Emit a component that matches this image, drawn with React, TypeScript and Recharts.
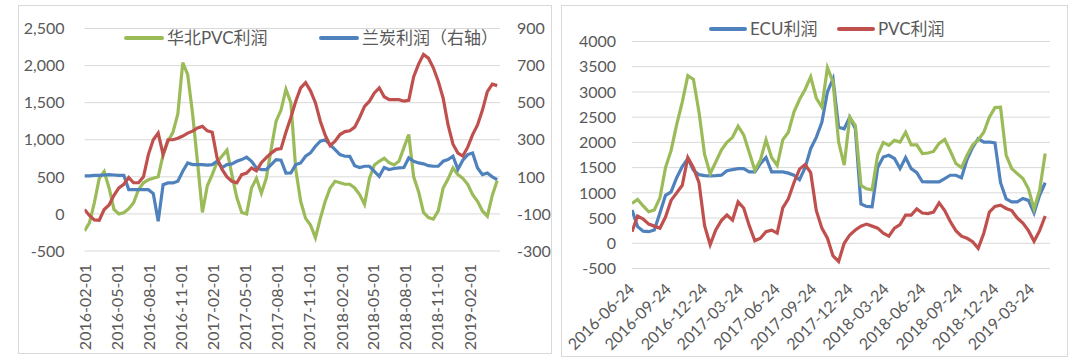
import React from "react";
import { LineChart, Line, XAxis, YAxis, CartesianGrid, Legend } from "recharts";

const FONT = 'Lato, "Noto Sans CJK SC", sans-serif';
const GREY = "#595959";
const GRID = "#d9d9d9";
const GREEN = "#9BBB59";
const BLUE = "#4F81BD";
const RED = "#C0504D";
const DAY = 86400000;
const STEP_DAYS = 14;

// ---- left chart (samples every two weeks from leftStart)
const leftStart = "2016-02-01";
const leftEnd = "2019-04-30";
const leftTicks = [
  "2016-02-01", "2016-05-01", "2016-08-01", "2016-11-01", "2017-02-01", "2017-05-01", "2017-08-01",
  "2017-11-01", "2018-02-01", "2018-05-01", "2018-08-01", "2018-11-01", "2019-02-01",
];
const leftAxisTicks = [-500, 0, 500, 1000, 1500, 2000, 2500];
const leftRightAxisTicks = [-300, -100, 100, 300, 500, 700, 900];

const northPvc = [
  -230, -120, 150, 480, 570, 350, 60, 0, 15, 70,
  150, 330, 420, 460, 480, 500, 800, 980, 1100, 1350,
  2040, 1880, 1350, 700, 20, 380, 530, 700, 780, 860,
  530, 220, 20, 0, 350, 480, 280, 480, 880, 1250,
  1400, 1680, 1500, 600, 170, -60, -150, -320, -60, 170,
  350, 440, 420, 400, 400, 350, 260, 130, 480, 660,
  710, 750, 690, 660, 710, 890, 1070, 500, 300, 20,
  -50, -70, 40, 350, 470, 620, 530, 480, 400, 260,
  170, 40, -30, 250, 450,
];
const lanTan = [
  105, 105, 108, 108, 110, 112, 110, 108, 108, 31,
  31, 31, 31, 31, 10, -140, 58, 67, 67, 76,
  130, 175, 166, 166, 166, 163, 166, 184, 150, 166,
  170, 184, 193, 206, 184, 148, 139, 139, 166, 193,
  190, 120, 121, 166, 175, 211, 229, 265, 292, 300,
  274, 247, 220, 211, 210, 160, 150, 157, 157, 130,
  103, 150, 139, 145, 148, 150, 202, 184, 175, 170,
  160, 157, 157, 184, 193, 211, 140, 190, 220, 229,
  148, 112, 121, 100, 85,
];
const leftRed = [
  60, -20, -80, -85, 60, 120, 250, 350, 400, 490,
  420, 420, 500, 800, 1000, 1090, 800, 1000, 1000, 1020,
  1050, 1090, 1116, 1160, 1180, 1120, 1100, 750, 600, 500,
  440, 420, 530, 550, 620, 580, 690, 760, 820, 870,
  880, 1100, 1300, 1520, 1700, 1770, 1660, 1500, 1250, 1060,
  920, 980, 1070, 1110, 1120, 1170, 1300, 1450, 1520, 1630,
  1700, 1580, 1540, 1540, 1540, 1520, 1530, 1850, 2020, 2150,
  2100, 1970, 1790, 1560, 1200, 940, 820, 780, 900, 1070,
  1200, 1400, 1650, 1750, 1730,
];

// ---- right chart
const rightStart = "2016-06-24";
const rightEnd = "2019-05-08";
const rightTicks = [
  "2016-06-24", "2016-09-24", "2016-12-24", "2017-03-24", "2017-06-24", "2017-09-24",
  "2017-12-24", "2018-03-24", "2018-06-24", "2018-09-24", "2018-12-24", "2019-03-24",
];
const rightAxisTicks = [-500, 0, 500, 1000, 1500, 2000, 2500, 3000, 3500, 4000];

const ecu = [
  658, 330, 240, 230, 263, 600, 950, 1020, 1300, 1520,
  1678, 1450, 1360, 1340, 1336, 1340, 1350, 1440, 1460, 1480,
  1480, 1415, 1415, 1580, 1700, 1415, 1415, 1415, 1390, 1350,
  1260, 1500, 1875, 2100, 2400, 3000, 3257, 2300, 2270, 2500,
  2270, 780, 730, 724, 1500, 1711, 1744, 1680, 1480, 1700,
  1480, 1400, 1220, 1217, 1217, 1217, 1283, 1349, 1349, 1300,
  1660, 1900, 2073, 2007, 2007, 1990, 1200, 880, 822, 822,
  888, 850, 600, 950, 1200,
];
const pvc = [
  230, 540, 480, 380, 340, 300, 520, 850, 1000, 1150,
  1700, 1500, 1200, 350, -30, 263, 450, 560, 460, 820,
  700, 350, 50, 100, 230, 260, 200, 700, 880, 1200,
  1470, 1560, 1400, 650, 300, 100, -250, -360, 0, 165,
  263, 340, 380, 340, 300, 200, 140, 300, 370, 560,
  560, 680, 600, 590, 620, 800, 650, 430, 250, 140,
  99, 30, -100, 200, 620, 730, 757, 690, 650, 500,
  400, 250, 40, 250, 540,
];
const rightGreen = [
  790, 870, 740, 625, 660, 900, 1500, 1840, 2350, 2800,
  3323, 3250, 2600, 1760, 1380, 1612, 1850, 2000, 2100, 2320,
  2150, 1800, 1450, 1650, 2050, 1700, 1546, 2050, 2200, 2600,
  2850, 3050, 3300, 2880, 2700, 3480, 3200, 2007, 1550, 2500,
  2336, 1150, 1080, 1060, 1750, 2000, 1941, 2040, 2007, 2200,
  1950, 1950, 1780, 1790, 1820, 1980, 2060, 1830, 1580, 1500,
  1744, 1950, 2050, 2200, 2500, 2690, 2698, 1750, 1480, 1380,
  1283, 1080, 680, 1050, 1780,
];

const ts = (s: string) => Date.parse(s + "T00:00:00Z");
const fmtDate = (v: number) => new Date(v).toISOString().slice(0, 10);

const leftData = northPvc.map((v, i) => ({
  t: ts(leftStart) + i * STEP_DAYS * DAY,
  green: v,
  blue: lanTan[i],
  red: leftRed[i],
}));

const rightData = ecu.map((v, i) => ({
  t: ts(rightStart) + i * STEP_DAYS * DAY,
  blue: v,
  red: pvc[i],
  green: rightGreen[i],
}));

const tickStyle = { fill: GREY, fontSize: 16, fontFamily: FONT };

function VerticalTick(props: any) {
  const { x, y, payload } = props;
  return (
    <text
      x={x}
      y={y}
      dx={-13}
      transform={`rotate(-90, ${x}, ${y})`}
      textAnchor="end"
      dominantBaseline="central"
      {...tickStyle}
    >
      {fmtDate(payload.value)}
    </text>
  );
}

function SlantTick(props: any) {
  const { x, y, payload } = props;
  return (
    <text
      transform={`translate(${x - 1}, ${y + 17}) rotate(-45)`}
      x={0}
      y={0}
      textAnchor="end"
      dominantBaseline="central"
      {...tickStyle}
    >
      {fmtDate(payload.value)}
    </text>
  );
}

// legend items are placed by name; series without an entry are not shown
function legendContent(lefts: Record<string, number>, lineW: number) {
  return (props: any) => (
    <div style={{ position: "relative", height: 20 }}>
      {(props.payload || [])
        .filter((p: any) => lefts[p.value] !== undefined)
        .map((p: any) => (
          <div
            key={p.value}
            style={{
              position: "absolute",
              left: lefts[p.value],
              top: 0,
              height: 20,
              display: "flex",
              alignItems: "center",
              whiteSpace: "nowrap",
            }}
          >
            <span style={{ width: lineW, height: 4, borderRadius: 2, background: p.color, marginRight: 3 }} />
            <span style={{ fontSize: 17, color: GREY, fontFamily: FONT, lineHeight: "20px" }}>{p.value}</span>
          </div>
        ))}
    </div>
  );
}

function LeftChart() {
  return (
    <LineChart width={532} height={347} data={leftData} margin={{ top: 22.5, right: 11, bottom: 8, left: 5.5 }}>
      <CartesianGrid yAxisId="l" vertical={false} stroke={GRID} />
      <XAxis
        dataKey="t"
        type="number"
        domain={[ts(leftStart), ts(leftEnd)]}
        ticks={leftTicks.map(ts)}
        interval={0}
        tick={<VerticalTick />}
        tickLine={false}
        axisLine={false}
        tickSize={0}
        tickMargin={0}
        height={94}
        allowDataOverflow
      />
      <YAxis
        yAxisId="l"
        domain={[-500, 2500]}
        ticks={leftAxisTicks}
        interval={0}
        width={60}
        tickLine={false}
        axisLine={false}
        tickSize={0}
        tickMargin={20}
        tick={tickStyle}
        tickFormatter={(v: number) => v.toLocaleString("en-US")}
      />
      <YAxis
        yAxisId="r"
        orientation="right"
        domain={[-300, 900]}
        ticks={leftRightAxisTicks}
        interval={0}
        width={40}
        tickLine={false}
        axisLine={false}
        tickSize={0}
        tickMargin={17}
        tick={tickStyle}
      />
      <Legend
        layout="horizontal"
        verticalAlign="middle"
        align="center"
        wrapperStyle={{ left: 0, top: 22, width: 532, height: 20 }}
        content={legendContent({ "华北PVC利润": 105, "兰炭利润（右轴）": 300 }, 40)}
      />
      <Line yAxisId="l" type="linear" dataKey="green" name="华北PVC利润" stroke={GREEN} strokeWidth={3.2} dot={false} isAnimationActive={false} />
      <Line yAxisId="r" type="linear" dataKey="blue" name="兰炭利润（右轴）" stroke={BLUE} strokeWidth={3.2} dot={false} isAnimationActive={false} />
      <Line yAxisId="l" type="linear" dataKey="red" name="red" legendType="none" stroke={RED} strokeWidth={3.2} dot={false} isAnimationActive={false} />
    </LineChart>
  );
}

function RightChart() {
  return (
    <LineChart width={505} height={350} data={rightData} margin={{ top: 35.5, right: 17, bottom: 7.5, left: 6 }}>
      <CartesianGrid vertical={false} stroke={GRID} />
      <XAxis
        dataKey="t"
        type="number"
        domain={[ts(rightStart), ts(rightEnd)]}
        ticks={rightTicks.map(ts)}
        interval={0}
        tick={<SlantTick />}
        tickLine={false}
        axisLine={false}
        tickSize={0}
        tickMargin={0}
        height={80}
        allowDataOverflow
      />
      <YAxis
        domain={[-500, 4000]}
        ticks={rightAxisTicks}
        interval={0}
        width={64}
        tickLine={false}
        axisLine={false}
        tickSize={0}
        tickMargin={16}
        tick={tickStyle}
      />
      <Legend
        layout="horizontal"
        verticalAlign="middle"
        align="center"
        wrapperStyle={{ left: 0, top: 13, width: 505, height: 20 }}
        content={legendContent({ "ECU利润": 147, "PVC利润": 275 }, 38)}
      />
      <Line type="linear" dataKey="blue" name="ECU利润" stroke={BLUE} strokeWidth={3.2} dot={false} isAnimationActive={false} />
      <Line type="linear" dataKey="red" name="PVC利润" stroke={RED} strokeWidth={3.2} dot={false} isAnimationActive={false} />
      <Line type="linear" dataKey="green" name="green" legendType="none" stroke={GREEN} strokeWidth={3.2} dot={false} isAnimationActive={false} />
    </LineChart>
  );
}

export default function App() {
  return (
    <div style={{ position: "absolute", left: 0, top: 0, width: 1080, height: 358, background: "#fff", fontFamily: FONT }}>
      <div style={{ position: "absolute", left: 18, top: 5, width: 534, height: 349, border: `1px solid ${GRID}`, boxSizing: "border-box" }}>
        <LeftChart />
      </div>
      <div style={{ position: "absolute", left: 561, top: 5, width: 507, height: 352, border: `1px solid ${GRID}`, boxSizing: "border-box" }}>
        <RightChart />
      </div>
    </div>
  );
}
